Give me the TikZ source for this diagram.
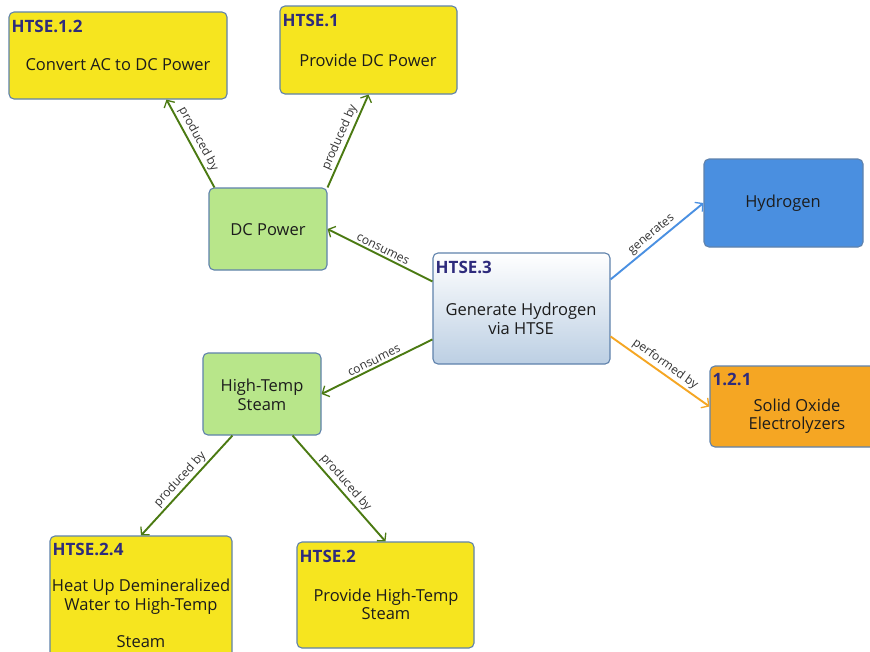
\documentclass[tikz,border=0pt]{standalone}
\usepackage{fontspec}
\setmainfont{Open Sans}
\usetikzlibrary{arrows.meta}
\definecolor{ylw}{HTML}{F6E51F}
\definecolor{grn}{HTML}{B8E68A}
\definecolor{blu}{HTML}{4A8FE0}
\definecolor{org}{HTML}{F5A623}
\definecolor{bordc}{HTML}{5F82AC}
\definecolor{gline}{HTML}{4B7A12}
\definecolor{bline}{HTML}{4A90E2}
\definecolor{oline}{HTML}{F5A623}
\definecolor{ttlc}{HTML}{2E2B7C}
\definecolor{txtc}{HTML}{1C1C1C}
\definecolor{labc}{HTML}{333333}
\definecolor{shadebot}{HTML}{BCCFE3}
\begin{document}
\begin{tikzpicture}[x=1pt,y=-1pt,
  box/.style={draw=bordc, line width=1.1pt, rounded corners=5pt, inner sep=0pt},
  ttl/.style={anchor=base west, inner sep=0pt, text=ttlc, font=\bfseries\fontsize{17}{18}\selectfont},
  txt/.style={inner sep=0pt, align=center, text=txtc, font=\fontsize{16.5}{18.5}\selectfont},
  conn/.style={line width=1.9pt, -{Straight Barb[length=5.5pt,width=12pt,line width=1.3pt]}},
  lbl/.style={midway, above, sloped, inner sep=2pt, text=labc, font=\fontsize{12}{14}\selectfont}]
\useasboundingbox (0,0) rectangle (870,651);
\clip (0,0) rectangle (870,651);
\fill[white] (0,0) rectangle (870,651);

% boxes
\node[box, fill=ylw, minimum width=218pt, minimum height=87pt] (n12) at (118,55.5) {};
\node[box, fill=ylw, minimum width=177pt, minimum height=88pt] (n1) at (368.5,50) {};
\node[box, fill=grn, minimum width=118pt, minimum height=82pt] (dc) at (268,229) {};
\node[box, top color=white, bottom color=shadebot, minimum width=177pt, minimum height=111pt] (h3) at (521.5,308.5) {};
\node[box, fill=blu, minimum width=159pt, minimum height=88pt] (hy) at (783.5,203) {};
\node[box, fill=org, minimum width=177pt, minimum height=81pt] (so) at (798.5,406.5) {};
\node[box, fill=grn, minimum width=118pt, minimum height=82pt] (st) at (262,394) {};
\node[box, fill=ylw, minimum width=182pt, minimum height=140pt] (n24) at (141,606) {};
\node[box, fill=ylw, minimum width=177pt, minimum height=106pt] (n2) at (385.5,595) {};

% titles
\node[ttl] (t12) at ([shift={(3,21)}]n12.north west) {HTSE.1.2};
\node[ttl] (t1) at ([shift={(3,21)}]n1.north west) {HTSE.1};
\node[ttl] (t3) at ([shift={(3,21)}]h3.north west) {HTSE.3};
\node[ttl] (tso) at ([shift={(3,20)}]so.north west) {1.2.1};
\node[ttl] (t24) at ([shift={(3,20)}]n24.north west) {HTSE.2.4};
\node[ttl] (t2) at ([shift={(3,21)}]n2.north west) {HTSE.2};

% texts
\node[txt] (x12) at (118,65) {Convert AC to DC Power};
\node[txt] (x1) at (368,60) {Provide DC Power};
\node[txt] (xdc) at (268,230) {DC Power};
\node[txt] (x3) at (521,319) {Generate Hydrogen\\via HTSE};
\node[txt] (xhy) at (783,203) {Hydrogen};
\node[txt] (xso) at (797,416) {Solid Oxide\\Electrolyzers};
\node[txt] (xst) at (262,395) {High-Temp\\Steam};
\node[txt] (x24) at (141,613.5) {Heat Up Demineralized\\Water to High-Temp\\[18.5pt]Steam};
\node[txt] (x2) at (386,604.5) {Provide High-Temp\\Steam};

% connectors
\draw[conn, gline] ([xshift=6pt]dc.north west) -- node[lbl] {produced by} ([xshift=158pt]n12.south west);
\draw[conn, gline] (dc.north east) -- node[lbl] {produced by} (n1.south);
\draw[conn, gline] ([yshift=-29pt]h3.north west) -- node[lbl] {consumes} (dc.east);
\draw[conn, gline] ([yshift=-87pt]h3.north west) -- node[lbl] {consumes} (st.east);
\draw[conn, gline] ([xshift=30pt]st.south west) -- node[lbl] {produced by} (n24.north);
\draw[conn, gline] ([xshift=-29pt]st.south east) -- node[lbl] {produced by} (n2.north);
\draw[conn, bline] ([yshift=-27pt]h3.north east) -- node[lbl] {generates} (hy.west);
\draw[conn, oline] ([yshift=-84pt]h3.north east) -- node[lbl] {performed by} (so.west);
\end{tikzpicture}
\end{document}
